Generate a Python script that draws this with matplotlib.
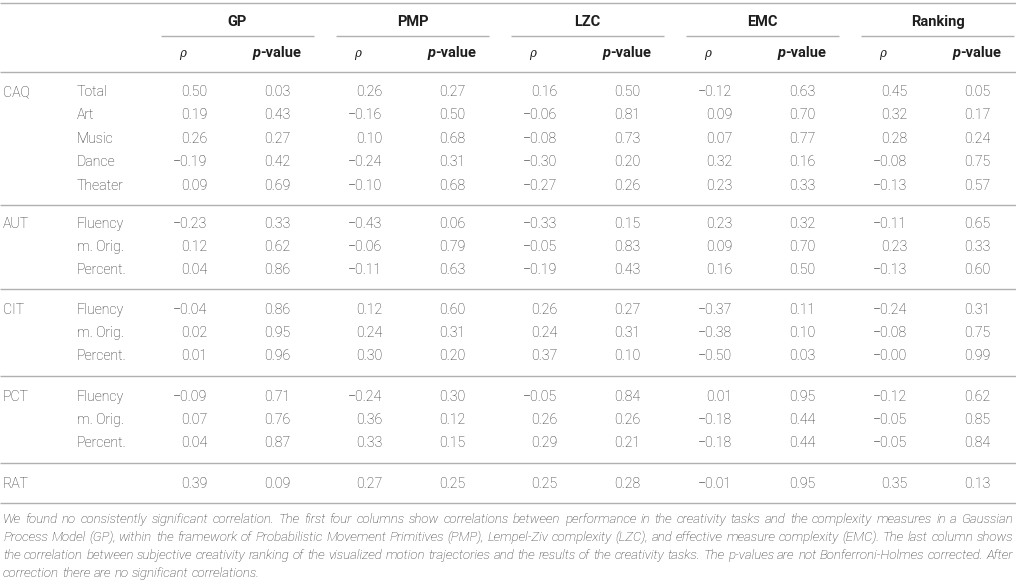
import matplotlib
matplotlib.use("Agg")
import matplotlib.pyplot as plt

plt.rcParams["font.family"] = ["Roboto", "DejaVu Sans"]

measures = ["GP", "PMP", "LZC", "EMC", "Ranking"]
groups = ["CAQ", "AUT", "CIT", "PCT", "RAT"]
sub_rows = [["Total", "Art", "Music", "Dance", "Theater"],
            ["Fluency", "m. Orig.", "Percent."],
            ["Fluency", "m. Orig.", "Percent."],
            ["Fluency", "m. Orig.", "Percent."],
            [""]]

# values in row order (CAQ x5, AUT x3, CIT x3, PCT x3, RAT)
rho_gp = [0.50, 0.19, 0.26, -0.19, 0.09, -0.23, 0.12, 0.04, -0.04, 0.02, 0.01, -0.09, 0.07, 0.04, 0.39]
p_gp = [0.03, 0.43, 0.27, 0.42, 0.69, 0.33, 0.62, 0.86, 0.86, 0.95, 0.96, 0.71, 0.76, 0.87, 0.09]
rho_pmp = [0.26, -0.16, 0.10, -0.24, -0.10, -0.43, -0.06, -0.11, 0.12, 0.24, 0.30, -0.24, 0.36, 0.33, 0.27]
p_pmp = [0.27, 0.50, 0.68, 0.31, 0.68, 0.06, 0.79, 0.63, 0.60, 0.31, 0.20, 0.30, 0.12, 0.15, 0.25]
rho_lzc = [0.16, -0.06, -0.08, -0.30, -0.27, -0.33, -0.05, -0.19, 0.26, 0.24, 0.37, -0.05, 0.26, 0.29, 0.25]
p_lzc = [0.50, 0.81, 0.73, 0.20, 0.26, 0.15, 0.83, 0.43, 0.27, 0.31, 0.10, 0.84, 0.26, 0.21, 0.28]
rho_emc = [-0.12, 0.09, 0.07, 0.32, 0.23, 0.23, 0.09, 0.16, -0.37, -0.38, -0.50, 0.01, -0.18, -0.18, -0.01]
p_emc = [0.63, 0.70, 0.77, 0.16, 0.33, 0.32, 0.70, 0.50, 0.11, 0.10, 0.03, 0.95, 0.44, 0.44, 0.95]
rho_rank = [0.45, 0.32, 0.28, -0.08, -0.13, -0.11, 0.23, -0.13, -0.24, -0.08, -0.00, -0.12, -0.05, -0.05, 0.35]
p_rank = [0.05, 0.17, 0.24, 0.75, 0.57, 0.65, 0.33, 0.60, 0.31, 0.75, 0.99, 0.62, 0.85, 0.84, 0.13]

caption_lines = [
    "We found no consistently significant correlation. The first four columns show correlations between performance in the creativity tasks and the complexity measures in a Gaussian",
    "Process Model (GP), within the framework of Probabilistic Movement Primitives (PMP), Lempel-Ziv complexity (LZC), and effective measure complexity (EMC). The last column shows",
    "the correlation between subjective creativity ranking of the visualized motion trajectories and the results of the creativity tasks. The p-values are not Bonferroni-Holmes corrected. After",
    "correction there are no significant correlations.",
]

rho_cols = [rho_gp, rho_pmp, rho_lzc, rho_emc, rho_rank]
p_cols = [p_gp, p_pmp, p_lzc, p_emc, p_rank]

W, H = 1016, 582
fig = plt.figure(figsize=(W / 100, H / 100), dpi=100)
ax = fig.add_axes([0, 0, 1, 1])
ax.set_xlim(0, W)
ax.set_ylim(H, 0)
ax.axis("off")
renderer = fig.canvas.get_renderer()

txt = "#303030"
head = "#1e1e1e"
rule = "#b0b0b0"
fs = 10.2
step = 175


def hline(y, x0=0, x1=W):
    ax.plot([x0, x1], [y, y], color=rule, lw=1.0, solid_capstyle="butt")


def width_of(t):
    return t.get_window_extent(renderer).width


# header
hline(3)
for k, m in enumerate(measures):
    ax.text(237.5 + k * step, 22, m, ha="center", va="center", fontsize=10.5,
            fontweight="bold", color=head)
    hline(36, 161 + k * step, 314 + k * step)
    ax.text(183 + k * step, 54, "\u03c1", ha="center", va="center", fontsize=8.5,
            fontstyle="italic", color=head, family="DejaVu Serif")
    a = ax.text(0, 53, "p", ha="left", va="center", fontsize=10.5, fontweight="bold",
                fontstyle="italic", color=head)
    b = ax.text(0, 53, "-value", ha="left", va="center", fontsize=10.5,
                fontweight="bold", color=head)
    wa, wb = width_of(a), width_of(b)
    x0 = 277 + k * step - (wa + wb) / 2
    a.set_x(x0)
    b.set_x(x0 + wa)
hline(72)

# body rows
row_y = [[92, 115, 139, 162, 186],
         [224, 247, 270],
         [310, 333, 356],
         [397, 420, 443],
         [484]]
rule_y = [205, 289, 376, 463, 503]

i = 0
for g, name in enumerate(groups):
    ax.text(3, row_y[g][0], name, ha="left", va="center", fontsize=fs,
            fontweight="light", color=txt)
    for r, sub in enumerate(sub_rows[g]):
        y = row_y[g][r]
        ax.text(77, y, sub, ha="left", va="center", fontsize=fs,
                fontweight="light", color=txt)
        for k in range(len(measures)):
            rv = f"{rho_cols[k][i]:.2f}".replace("-", "\u2212")
            ax.text(207 + k * step, y, rv, ha="right", va="center", fontsize=fs,
                    fontweight="light", color=txt)
            ax.text(290 + k * step, y, f"{p_cols[k][i]:.2f}", ha="right",
                    va="center", fontsize=fs, fontweight="light", color=txt)
        i += 1
    hline(rule_y[g])

# justified caption; font size chosen so the widest line just fits
x_left, x_right = 3, 1013
cap_kw = dict(fontstyle="italic", fontweight="light", color=txt)
probe_fs = 10.0
natural = []
for line in caption_lines[:-1]:
    t = ax.text(0, 0, line, fontsize=probe_fs, **cap_kw)
    natural.append(width_of(t))
    t.remove()
cap_fs = probe_fs * (x_right - x_left) / max(natural) * 0.995
probe = ax.text(0, 0, "a a", fontsize=cap_fs, **cap_kw)
probe1 = ax.text(0, 0, "aa", fontsize=cap_fs, **cap_kw)
space_w = width_of(probe) - width_of(probe1)
probe.remove()
probe1.remove()

cap_y = [519.5, 537.5, 555.5, 573.5]
for n, (line, y) in enumerate(zip(caption_lines, cap_y)):
    words = line.split()
    ts = [ax.text(0, y, w_, ha="left", va="center", fontsize=cap_fs, **cap_kw)
          for w_ in words]
    ws = [width_of(t) for t in ts]
    if n < len(caption_lines) - 1:
        gap = (x_right - x_left - sum(ws)) / (len(words) - 1)
    else:
        gap = space_w
    x = x_left
    for t, w_ in zip(ts, ws):
        t.set_x(x)
        x += w_ + gap

fig.savefig("out.png", dpi=100)
